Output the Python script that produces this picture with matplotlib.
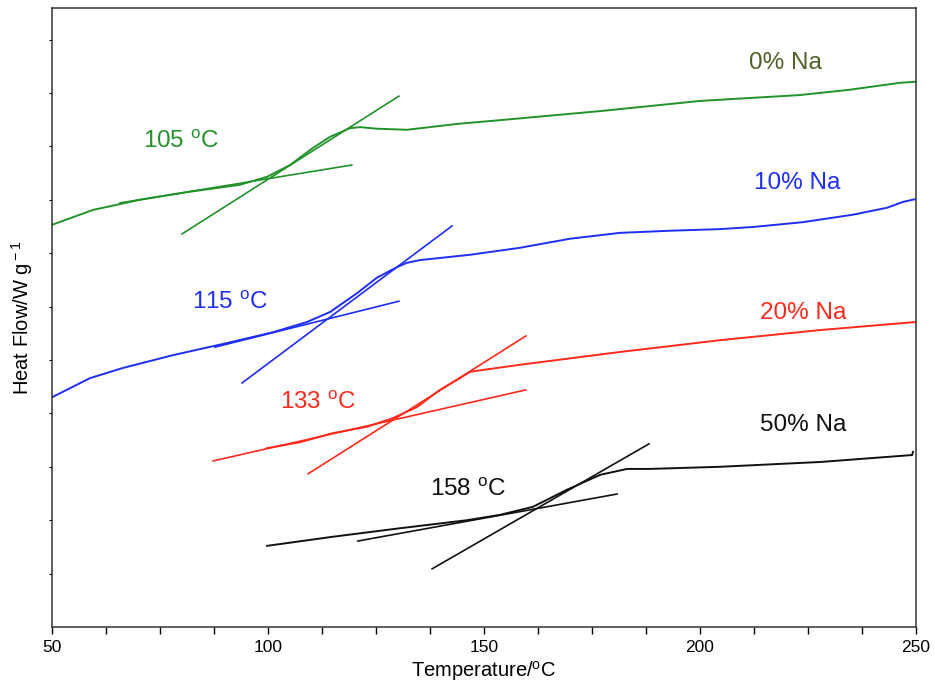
import numpy as np
import matplotlib.pyplot as plt

plt.rcParams['font.family'] = ['Liberation Sans', 'DejaVu Sans']
plt.rcParams['mathtext.fontset'] = 'custom'
plt.rcParams['mathtext.rm'] = 'Liberation Sans'
plt.rcParams['mathtext.it'] = 'Liberation Sans:italic'
plt.rcParams['mathtext.bf'] = 'Liberation Sans:bold'

# 0% Na
T0 = [50, 59.5, 70.4, 81.9, 93.5, 99.8, 105.1, 110.4, 114.4, 119.0, 121.3, 125.2,
      132.2, 143.8, 153.7, 176.9, 200, 223.1, 234.7, 246.3, 250]
H0 = [7.53, 7.81, 8.00, 8.15, 8.28, 8.43, 8.65, 8.97, 9.18, 9.34, 9.36, 9.33,
      9.31, 9.42, 9.49, 9.66, 9.85, 9.96, 10.06, 10.19, 10.21]
# 10% Na
T10 = [50.2, 58.8, 66.4, 78.0, 89.6, 101.2, 109.0, 114.4, 120.6, 125.2, 129.9, 132.2,
       135.2, 146.8, 158.3, 169.9, 181.5, 193.1, 204.6, 212.3, 223.8, 235.4, 243.3,
       247.0, 249.8]
H10 = [4.31, 4.66, 4.85, 5.09, 5.30, 5.52, 5.71, 5.90, 6.25, 6.54, 6.74, 6.82,
       6.87, 6.97, 7.10, 7.27, 7.38, 7.42, 7.45, 7.49, 7.58, 7.72, 7.85,
       7.96, 8.01]
# 20% Na
T20 = [99.8, 107.4, 115.0, 122.9, 128.9, 134.5, 139.8, 143.8, 146.8, 158.3, 181.5,
       204.6, 227.8, 249.8]
H20 = [3.35, 3.46, 3.63, 3.75, 3.91, 4.12, 4.44, 4.63, 4.78, 4.91, 5.15,
       5.37, 5.56, 5.71]
# 50% Na
T50 = [99.8, 115.0, 130.6, 146.1, 153.7, 161.3, 169.2, 176.9, 183.1, 188.4, 204.6,
       227.8, 249.1, 249.3]
H50 = [1.52, 1.69, 1.85, 2.00, 2.10, 2.25, 2.57, 2.85, 2.96, 2.96, 3.00,
       3.09, 3.22, 3.28]

# tangent lines (start/end) used to find Tg
tan0 = [([65.7, 119.4], [7.94, 8.65]), ([80.1, 130.3], [7.36, 9.94])]
tan10 = [([87.7, 130.3], [5.24, 6.10]), ([94.0, 142.6], [4.57, 7.51])]
tan20 = [([87.3, 159.7], [3.11, 4.44]), ([109.3, 159.7], [2.87, 5.45])]
tan50 = [([120.8, 180.8], [1.61, 2.49]), ([138.0, 188.2], [1.09, 3.43])]

names = ['0% Na', '10% Na', '20% Na', '50% Na']
tg_labels = ['105 $^{\\rm o}$C', '115 $^{\\rm o}$C', '133 $^{\\rm o}$C', '158 $^{\\rm o}$C']
colors = ['#22922a', '#1f2ef5', '#ff2a1c', '#111111']
name_colors = ['#4f6228', '#1f2ef5', '#ff2a1c', '#111111']

fig = plt.figure(figsize=(9.35, 6.84), dpi=100)
ax = fig.add_axes([0.0556, 0.0833, 0.9241, 0.905])

curves = [(T0, H0), (T10, H10), (T20, H20), (T50, H50)]
tangents = [tan0, tan10, tan20, tan50]
for (T, H), tans, c in zip(curves, tangents, colors):
    ax.plot(T, H, color=c, lw=1.4)
    for tx, ty in tans:
        ax.plot(tx, ty, color=c, lw=1.2)

# curve names
ax.text(219.7, 10.56, names[0], color=name_colors[0], fontsize=17.5, ha='center', va='center')
ax.text(222.5, 8.31, names[1], color=name_colors[1], fontsize=17.5, ha='center', va='center')
ax.text(223.8, 5.88, names[2], color=name_colors[2], fontsize=17.5, ha='center', va='center')
ax.text(223.8, 3.78, names[3], color=name_colors[3], fontsize=17.5, ha='center', va='center')
# Tg labels
ax.text(79.9, 9.08, tg_labels[0], color=colors[0], fontsize=17.5, ha='center', va='center')
ax.text(91.2, 6.07, tg_labels[1], color=colors[1], fontsize=17.5, ha='center', va='center')
ax.text(111.6, 4.2, tg_labels[2], color=colors[2], fontsize=17.5, ha='center', va='center')
ax.text(146.3, 2.56, tg_labels[3], color=colors[3], fontsize=17.5, ha='center', va='center')

ax.set_xlim(50, 250)
ax.set_ylim(0, 11.59)
ax.set_xticks([50, 100, 150, 200, 250])
ax.set_xticks(np.arange(50, 251, 12.5), minor=True)
ax.set_yticks(np.arange(1, 12))
ax.set_yticklabels([])
ax.tick_params(axis='x', which='major', direction='out', length=5, width=1, labelsize=12.5, pad=4)
ax.tick_params(axis='x', which='minor', direction='out', length=5, width=1)
ax.tick_params(axis='y', direction='out', length=2.5, width=0.8)
for s in ax.spines.values():
    s.set_color('#333333')
    s.set_linewidth(1.1)

ax.set_xlabel('Temperature/$^{\\rm o}$C', fontsize=14.5, labelpad=3)
ax.set_ylabel('Heat Flow/W g$^{\\rm -1}$', fontsize=14.5, labelpad=6)

plt.savefig('out.png', dpi=100)
